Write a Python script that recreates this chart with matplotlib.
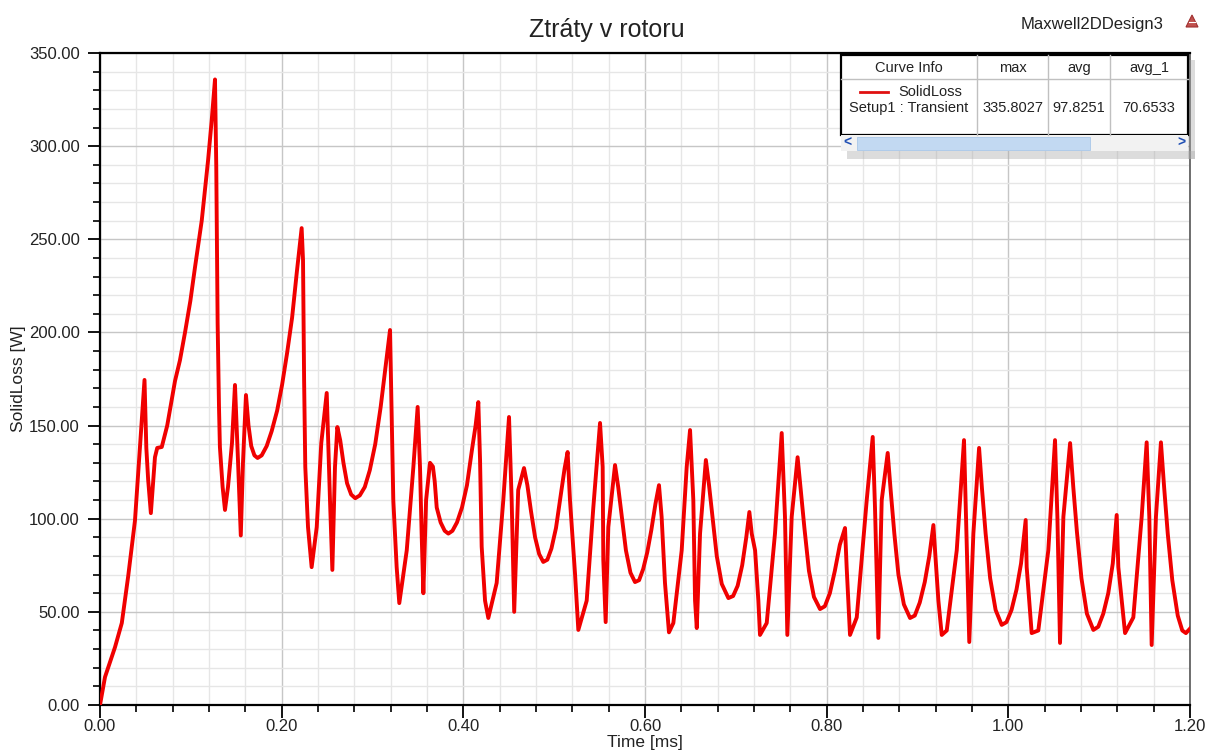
import numpy as np
import matplotlib
matplotlib.use("Agg")
import matplotlib.pyplot as plt
from matplotlib.ticker import AutoMinorLocator, FormatStrFormatter
from matplotlib.patches import Rectangle, Polygon

plt.rcParams['font.family'] = ['Liberation Sans', 'DejaVu Sans']

# SolidLoss trace, time in ms, loss in W
time_ms = [
    0.0, 0.0055, 0.0165, 0.024, 0.031, 0.0385, 0.042, 0.046, 0.049, 0.051,
    0.053, 0.056, 0.0605, 0.063, 0.068, 0.074, 0.079, 0.0826, 0.088, 0.0936,
    0.0995, 0.1046, 0.112, 0.119, 0.123, 0.1266, 0.128, 0.1295, 0.131, 0.132,
    0.135, 0.1376, 0.1409, 0.1453, 0.1486, 0.1519, 0.155, 0.1574, 0.1607, 0.1635,
    0.1665, 0.170, 0.1735, 0.178, 0.1835, 0.189, 0.195, 0.2005, 0.206, 0.2115,
    0.2166, 0.222, 0.2235, 0.2247, 0.226, 0.229, 0.233, 0.2386, 0.2436, 0.2496,
    0.2532, 0.2558, 0.2587, 0.2613, 0.2645, 0.268, 0.272, 0.2765, 0.281, 0.286,
    0.2915, 0.297, 0.303, 0.309, 0.3145, 0.3193, 0.3212, 0.3229, 0.3266, 0.3295,
    0.3377, 0.345, 0.3497, 0.3523, 0.3541, 0.356, 0.359, 0.3633, 0.3665, 0.3685,
    0.3707, 0.375, 0.3795, 0.3835, 0.388, 0.393, 0.3985, 0.404, 0.4095, 0.4135,
    0.4165, 0.4184, 0.4202, 0.4239, 0.4275, 0.4367, 0.444, 0.4503, 0.4532, 0.456,
    0.4604, 0.4668, 0.4705, 0.4745, 0.479, 0.4835, 0.488, 0.4925, 0.497, 0.502,
    0.507, 0.5115, 0.5148, 0.5174, 0.5229, 0.5266, 0.5358, 0.5431, 0.5505, 0.5534,
    0.5541, 0.5567, 0.5596, 0.567, 0.5705, 0.5745, 0.579, 0.584, 0.589, 0.5935,
    0.598, 0.6025, 0.607, 0.6115, 0.6154, 0.6183, 0.622, 0.6264, 0.6312, 0.6404,
    0.6459, 0.6496, 0.6532, 0.6551, 0.657, 0.6606, 0.667, 0.6705, 0.6745, 0.679,
    0.6845, 0.6918, 0.697, 0.702, 0.707, 0.7115, 0.7149, 0.7175, 0.7212, 0.7248,
    0.7266, 0.734, 0.7431, 0.7505, 0.7541, 0.7567, 0.7615, 0.768, 0.7715, 0.7755,
    0.7805, 0.786, 0.7927, 0.798, 0.8035, 0.809, 0.8145, 0.8202, 0.822, 0.8257,
    0.8331, 0.8441, 0.8507, 0.8532, 0.8569, 0.8606, 0.8672, 0.8705, 0.8745, 0.879,
    0.885, 0.8918, 0.897, 0.9025, 0.908, 0.913, 0.9175, 0.9193, 0.923, 0.9267,
    0.9322, 0.9432, 0.9512, 0.9534, 0.957, 0.9615, 0.9678, 0.971, 0.975, 0.98,
    0.986, 0.9927, 0.998, 1.0035, 1.009, 1.014, 1.0191, 1.0202, 1.0257, 1.033,
    1.044, 1.0514, 1.054, 1.0569, 1.0606, 1.068, 1.0715, 1.0755, 1.0805, 1.0865,
    1.0936, 1.099, 1.1045, 1.11, 1.115, 1.1193, 1.1211, 1.1285, 1.1376, 1.1468,
    1.1523, 1.1552, 1.1578, 1.1625, 1.168, 1.1715, 1.1755, 1.1805, 1.1865, 1.1915,
    1.1955, 1.2,
]
solid_loss = [
    0.0, 15, 31, 44, 69, 99, 124, 153, 174.5, 138,
    121, 103, 133, 138, 138.5, 150, 164, 174, 185, 200,
    217, 235, 260, 292.5, 314, 335.8027, 289, 205, 160, 138.5,
    117, 104.7, 117, 140.6, 171.8, 131.5, 91, 130, 166.4, 150,
    139, 134, 132.6, 134, 139, 147, 158, 172, 189, 208,
    232, 256, 239, 174.5, 127.8, 95.5, 74, 95.5, 140.6, 167.5,
    110, 72.5, 127.8, 149.2, 142, 130, 119, 113, 111, 112.5,
    117, 126, 140, 160, 182, 201.3, 154.6, 110, 74, 54.7,
    83, 127.8, 160, 127.8, 92, 60, 110, 130, 128, 120,
    106, 98, 93.5, 92, 93.5, 98, 106, 118, 137, 150,
    162.6, 131.5, 85, 56, 46.7, 65.5, 110, 154.6, 110, 50,
    115.4, 127.2, 118, 104, 90, 81, 76.8, 78, 84, 95,
    112, 127, 135.8, 110, 70.9, 40.3, 56, 106, 151.4, 127.8,
    77.8, 44.5, 95.5, 128.8, 117, 101, 83, 71, 66, 67,
    73, 82, 94, 108, 118, 101, 65.5, 39, 44, 83,
    127.8, 147.6, 110, 56, 41.3, 92, 131.5, 118, 100, 80,
    65, 57.4, 58.5, 64, 75, 90, 103.6, 92, 83, 56,
    37.6, 44, 92, 146, 101, 37.6, 101, 133, 115, 95,
    72, 58, 51.5, 53, 60, 72, 86, 95, 74, 37.6,
    47, 110, 143.9, 106, 36, 110, 135.3, 115, 92, 70,
    54, 46.7, 48, 55, 66, 80, 96.6, 83, 56, 37.6,
    40, 83, 142.2, 101, 33.8, 92, 138, 116, 92, 68,
    51, 43, 44.5, 51, 62, 76, 99.3, 74, 38.6, 40,
    83, 142.2, 101, 33.3, 101, 140.6, 117, 93, 68, 49,
    40.3, 42, 49, 60, 76, 102, 74, 38.6, 47, 101,
    141, 101, 32.2, 101, 141, 117, 92, 67, 48, 40,
    38.6, 41,
]
assert len(time_ms) == len(solid_loss)

col_heads = ["Curve Info", "max", "avg", "avg_1"]
curve_name = "SolidLoss"
setup_name = "Setup1 : Transient"
loss_max = max(solid_loss)
loss_avg = 97.8251
loss_avg_1 = 70.6533

W, H = 1209, 756
fig = plt.figure(figsize=(W / 100, H / 100), dpi=100)
fig.patch.set_facecolor("white")

ax = fig.add_axes([100 / W, 1 - 705 / H, 1090 / W, 652 / H])
ax.plot(time_ms, solid_loss, color="#f00000", lw=2.8, zorder=3)

ax.set_xlim(0, 1.2)
ax.set_ylim(0, 350)
ax.set_xticks(np.arange(0, 1.21, 0.2))
ax.set_yticks(np.arange(0, 351, 50))
ax.xaxis.set_minor_locator(AutoMinorLocator(5))
ax.yaxis.set_minor_locator(AutoMinorLocator(5))
ax.xaxis.set_major_formatter(FormatStrFormatter("%.2f"))
ax.yaxis.set_major_formatter(FormatStrFormatter("%.2f"))
ax.grid(which="major", color="#c6c6c6", lw=1.0)
ax.grid(which="minor", color="#e6e6e6", lw=1.0)
ax.set_axisbelow(True)

ax.tick_params(which="major", direction="out", length=9, width=1.3,
               labelsize=12, colors="black", labelcolor="#222222")
ax.tick_params(axis="y", which="major", pad=5.5)
ax.tick_params(axis="x", which="major", pad=1)
ax.tick_params(which="minor", direction="out", length=5, width=1.2)
for side in ["left", "bottom", "top"]:
    ax.spines[side].set_linewidth(1.6)
    ax.spines[side].set_color("black")
ax.spines["right"].set_color("#555555")
ax.spines["right"].set_linewidth(1.2)

ax.set_xlabel("Time [ms]", fontsize=12.5, labelpad=1, color="#222222")
ax.set_ylabel("SolidLoss [W]", fontsize=12.5, labelpad=2, color="#222222")

fig.text(0.502, 1 - 30 / H, "Ztráty v rotoru", ha="center", va="center",
         fontsize=18, color="#222222")
fig.text(1163 / W, 1 - 24 / H, "Maxwell2DDesign3", ha="right", va="center",
         fontsize=12, color="#222222")

# overlay in pixel units for the curve-info table and the logo
ov = fig.add_axes([0, 0, 1, 1], zorder=5)
ov.set_xlim(0, W)
ov.set_ylim(H, 0)
ov.axis("off")
ov.patch.set_alpha(0)

ov.add_patch(Polygon([[1186, 27], [1192, 15], [1198, 27]], closed=True,
                     facecolor="#c0504d", edgecolor="#a03030", lw=0.8))
ov.plot([1189, 1195], [22, 22], color="white", lw=0.8)

x0, x1 = 841, 1188
y0, ymid, y1, ys = 55, 79, 135, 151
cols = [x0, 977, 1048, 1110, x1]

# drop shadow
ov.add_patch(Rectangle((x1, y0 + 5), 7, ys - y0 + 3, facecolor="#a8a8a8",
                       alpha=0.4, lw=0))
ov.add_patch(Rectangle((x0 + 6, ys), x1 - x0 + 1, 8, facecolor="#a8a8a8",
                       alpha=0.4, lw=0))
ov.add_patch(Rectangle((x0, y0), x1 - x0, ys - y0, facecolor="white",
                       edgecolor="none"))
for cx in cols[1:-1]:
    ov.plot([cx, cx], [y0, y1], color="#c0c0c0", lw=1)
ov.plot([x0, x1], [ymid, ymid], color="#c0c0c0", lw=1)
ov.add_patch(Rectangle((x0, y0), x1 - x0, y1 - y0, facecolor="none",
                       edgecolor="black", lw=1.6))

# scroll bar
ov.add_patch(Rectangle((x0, y1), x1 - x0, ys - y1, facecolor="#f2f2f2",
                       edgecolor="none"))
ov.add_patch(Rectangle((857, y1 + 2), 233, ys - y1 - 3, facecolor="#c2d9f2",
                       edgecolor="#a9c6e8", lw=0.6))
ov.text(847, (y1 + ys) / 2, "<", ha="center", va="center", fontsize=10,
        color="#1f4fb4", fontweight="bold")
ov.text(1181, (y1 + ys) / 2, ">", ha="center", va="center", fontsize=10,
        color="#1f4fb4", fontweight="bold")

tfs = 10.5
for i, head in enumerate(col_heads):
    ov.text((cols[i] + cols[i + 1]) / 2, (y0 + ymid) / 2 + 1, head,
            ha="center", va="center", fontsize=tfs, color="#222222")
ov.plot([860, 888], [92, 92], color="#e01010", lw=2)
ov.text(930, 92, curve_name, ha="center", va="center", fontsize=tfs,
        color="#222222")
ov.text((cols[0] + cols[1]) / 2, 108, setup_name, ha="center", va="center",
        fontsize=tfs, color="#222222")
vals = [f"{loss_max:.4f}", f"{loss_avg:.4f}", f"{loss_avg_1:.4f}"]
for i, v in enumerate(vals):
    ov.text((cols[i + 1] + cols[i + 2]) / 2, 108, v, ha="center", va="center",
            fontsize=tfs, color="#222222")

fig.savefig("out.png", dpi=100)
